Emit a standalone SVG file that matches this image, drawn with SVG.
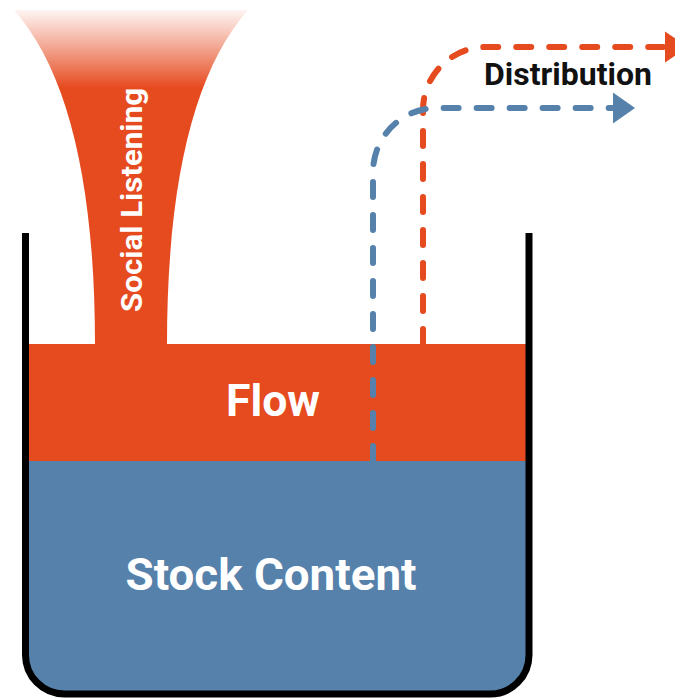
<svg xmlns="http://www.w3.org/2000/svg" width="675" height="698" viewBox="0 0 675 698">
<style>
.lbl{font-family:Roboto,"Open Sans","Liberation Sans",sans-serif;font-weight:bold;text-anchor:middle}
.w{fill:#ffffff}
.dash{fill:none;stroke-width:6;stroke-linecap:round;stroke-dasharray:15 18}
</style>
<defs>
<linearGradient id="fade" gradientUnits="userSpaceOnUse" x1="0" y1="8" x2="0" y2="88">
<stop offset="0" stop-color="#E64A1F" stop-opacity="0.03"/>
<stop offset="0.45" stop-color="#E64A1F" stop-opacity="0.45"/>
<stop offset="1" stop-color="#E64A1F" stop-opacity="1"/>
</linearGradient>
<marker id="ahO" markerUnits="userSpaceOnUse" markerWidth="24" markerHeight="32" viewBox="0 0 24 32" refX="0" refY="16" orient="auto">
<path d="M0,0.5 L23,16 L0,31.5 Z" fill="#E64A1F"/>
</marker>
<marker id="ahB" markerUnits="userSpaceOnUse" markerWidth="24" markerHeight="32" viewBox="0 0 24 32" refX="0" refY="16" orient="auto">
<path d="M0,0.5 L22,16 L0,31.5 Z" fill="#5581AB"/>
</marker>
</defs>
<g id="stock">
<path d="M25.5,461 H529 V655 A39,39 0 0 1 490,694 H64.5 A39,39 0 0 1 25.5,655 Z" fill="#5581AB"/>
<text class="lbl w" x="271" y="590" font-size="45" textLength="291" lengthAdjust="spacingAndGlyphs">Stock Content</text>
</g>
<g id="flow">
<rect x="25.5" y="344" width="503.5" height="117" fill="#E64A1F"/>
<text class="lbl w" x="273" y="416" font-size="45" textLength="94" lengthAdjust="spacingAndGlyphs">Flow</text>
</g>
<g id="social-listening">
<path d="M14,10 H248 C195,70 167,180 167,345 H95 C95,180 67,70 14,10 Z" fill="url(#fade)"/>
<text class="lbl w" transform="translate(142,200) rotate(-90)" font-size="30" textLength="224" lengthAdjust="spacingAndGlyphs">Social Listening</text>
</g>
<g id="container">
<path d="M25.5,233 V655 A39,39 0 0 0 64.5,694 H490 A39,39 0 0 0 529,655 V233" fill="none" stroke="#000" stroke-width="7"/>
</g>
<g id="connectors">
<path class="dash" d="M423,344 V110 A63,63 0 0 1 486,47 H665" stroke="#E64A1F" marker-end="url(#ahO)"/>
<path class="dash" d="M373,461 V172 A64,64 0 0 1 437,108 H613" stroke="#5581AB" marker-end="url(#ahB)"/>
</g>
<g id="distribution">
<text class="lbl" x="568" y="85" font-size="31" fill="#111" textLength="168" lengthAdjust="spacingAndGlyphs">Distribution</text>
</g>
</svg>
